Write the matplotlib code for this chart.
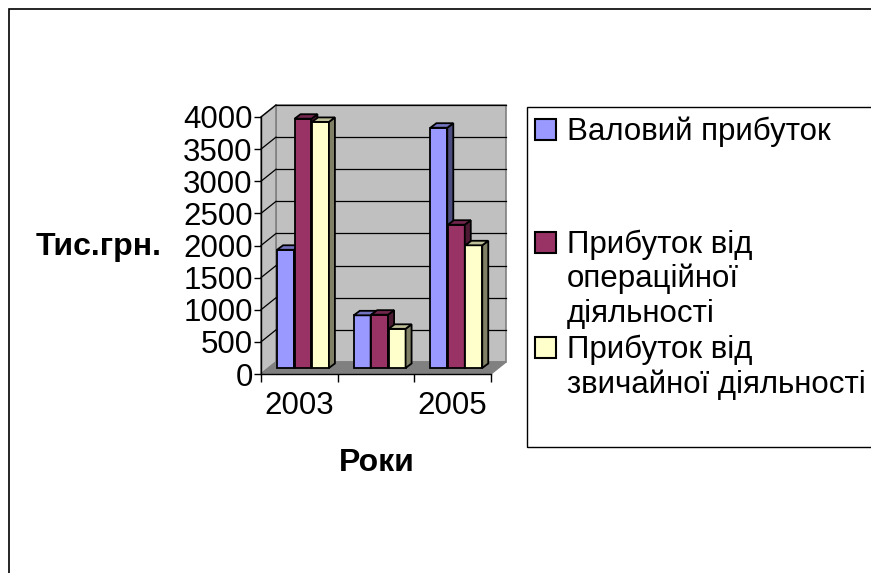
import matplotlib
matplotlib.use('Agg')
import matplotlib.pyplot as plt
from matplotlib.patches import Rectangle, Polygon
from matplotlib.colors import to_rgb

# data
years = ['2003', '2004', '2005']
year_labels = ['2003', '', '2005']
series = ['Валовий прибуток',
          'Прибуток від\nопераційної\nдіяльності',
          'Прибуток від\nзвичайної діяльності']
gross = [1840, 820, 3740]
operating = [3880, 830, 2230]
ordinary = [3830, 610, 1910]
values = [gross, operating, ordinary]
colors = ['#9999FF', '#993366', '#FFFFCC']
y_ticks = list(range(0, 4001, 500))

plt.rcParams['font.family'] = ['Liberation Sans', 'DejaVu Sans']
FS = 22.5

W, H = 871, 573
fig = plt.figure(figsize=(W / 100, H / 100), dpi=100)


def fx(px):
    return px / W


def fy(py):
    return 1 - py / H


def shade(c, f):
    r, g, b = to_rgb(c)
    return (r * f, g * f, b * f)


# outer chart border
fig.add_artist(Rectangle((fx(9), -0.1), 1.2, fy(9) + 0.1, transform=fig.transFigure,
                         fill=False, ec='black', lw=1.2))

ax = fig.add_axes([fx(261), fy(374), fx(491) - fx(261), fy(117) - fy(374)])
ax.set_xlim(-0.5, 2.5)
ax.set_ylim(0, 4000)
ax.patch.set_visible(False)
for s in ax.spines.values():
    s.set_visible(False)

# pixel sizes in data units
p0 = ax.transData.transform((0, 0))
p1 = ax.transData.transform((1, 1))
sx = 1 / (p1[0] - p0[0])
sy = 1 / (p1[1] - p0[1])

# walls and floor
wx, wy = 15 * sx, 12 * sy
ax.add_patch(Rectangle((-0.5 + wx, wy), 3, 4000, fc='#C0C0C0', ec='#808080', lw=1.2,
                       clip_on=False, zorder=0))
ax.add_patch(Polygon([(-0.5, 0), (-0.5, 4000), (-0.5 + wx, 4000 + wy), (-0.5 + wx, wy)],
                     fc='#C0C0C0', ec='#808080', lw=1.2, clip_on=False, zorder=0))
ax.add_patch(Polygon([(-0.5, 0), (2.5, 0), (2.5 + wx, wy), (-0.5 + wx, wy)],
                     fc='#808080', ec='#808080', lw=1, clip_on=False, zorder=0.5))
for v in y_ticks[1:]:
    ax.plot([-0.5 + wx, 2.5 + wx], [v + wy, v + wy], color='black', lw=0.9, zorder=1, clip_on=False)
    ax.plot([-0.5, -0.5 + wx], [v, v + wy], color='black', lw=0.9, zorder=1, clip_on=False)
ax.plot([-0.5, -0.5], [0, 4000], color='black', lw=1, zorder=1, clip_on=False)
ax.plot([-0.5, 2.5], [0, 0], color='black', lw=1, zorder=1, clip_on=False)

# bars with side and top faces
mx, my = 7.5 * sx, 6 * sy
bx, by = 6 * sx, 4.5 * sy
bw = 0.22
for k, (vals, c) in enumerate(zip(values, colors)):
    xs = [i + (k - 1) * 0.228 - 0.05 + mx for i in range(len(years))]
    ax.bar(xs, vals, bw, bottom=my, color=c, edgecolor='black', lw=1.3, zorder=3 + k, clip_on=False)
    for x, v in zip(xs, vals):
        r = x + bw / 2
        l = x - bw / 2
        top = my + v
        ax.add_patch(Polygon([(r, my), (r + bx, my + by), (r + bx, top + by), (r, top)],
                             fc=shade(c, 0.5), ec='black', lw=1.3, zorder=3 + k, clip_on=False))
        ax.add_patch(Polygon([(l, top), (r, top), (r + bx, top + by), (l + bx, top + by)],
                             fc=shade(c, 0.75), ec='black', lw=1.3, zorder=3 + k, clip_on=False))

ax.set_yticks(y_ticks)
ax.set_yticklabels([str(v) for v in y_ticks])
ax.tick_params(axis='y', length=5, width=1, direction='out', labelsize=FS, pad=1)
ax.set_xticks(range(len(years)))
ax.set_xticklabels(year_labels)
ax.tick_params(axis='x', which='major', length=0, labelsize=FS, pad=12)
ax.set_xticks([-0.5, 0.5, 1.5, 2.5], minor=True)
ax.tick_params(axis='x', which='minor', length=6, width=1, direction='out')

fig.text(fx(162), fy(255), 'Тис.грн.', ha='right', va='baseline', fontsize=23, weight='bold')
fig.text(fx(377), fy(471), 'Роки', ha='center', va='baseline', fontsize=23, weight='bold')

# legend
fig.add_artist(Rectangle((fx(527), fy(447)), 1.0, fy(107) - fy(447), transform=fig.transFigure,
                         fill=False, ec='black', lw=1))
first_baselines = [140, 253, 358]
line_step = 34.5
for name, c, base in zip(series, colors, first_baselines):
    fig.add_artist(Rectangle((fx(535), fy(base)), fx(21), 21 / H, transform=fig.transFigure,
                             fc=c, ec='black', lw=1.5))
    for j, line in enumerate(name.split('\n')):
        fig.text(fx(567), fy(base + j * line_step), line, ha='left', va='baseline', fontsize=FS)

fig.savefig('out.png', dpi=100)
